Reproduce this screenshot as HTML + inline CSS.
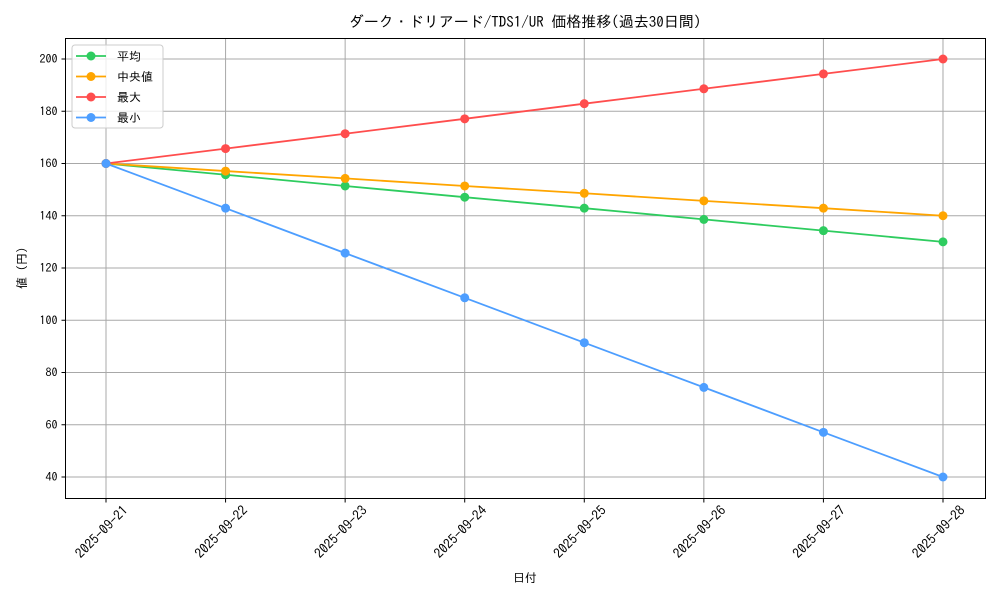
<!DOCTYPE html>
<html><head><meta charset="utf-8"><style>
body{margin:0;background:#fff;}
svg text{font-family:"IPAGothic","Liberation Sans","Noto Sans CJK JP",sans-serif;fill:#000;}
</style></head><body>
<svg id="s" width="1000" height="600" xmlns="http://www.w3.org/2000/svg"></svg>
<script>
const s=document.getElementById('s');
const L=65.5,R=985.5,T=38.5,B=498.5;
const xs=i=>106+i*119.57, ys=v=>59+(200-v)*2.6125;
let h='';
h+=`<text x="525" y="27" font-size="15" text-anchor="middle">ダーク・ドリアード/TDS1/UR 価格推移(過去30日間)</text>`;
for(let i=0;i<8;i++){const x=xs(i);h+=`<line x1="${x}" y1="${T}" x2="${x}" y2="${B}" stroke="#a8a8a8" stroke-width="1"/><line x1="${x}" y1="${B}" x2="${x}" y2="${B+4}" stroke="#000"/>`;
h+=`<text transform="translate(${x+16},${B+6}) rotate(-45)" font-size="13.5" text-anchor="end" dominant-baseline="hanging">2025-09-${21+i}</text>`;}
for(let v=40;v<=200;v+=20){const y=ys(v);h+=`<line x1="${L}" y1="${y}" x2="${R}" y2="${y}" stroke="#a8a8a8" stroke-width="1"/><line x1="${L-4}" y1="${y}" x2="${L}" y2="${y}" stroke="#000"/><text x="${L-8}" y="${y+4}" font-size="12" text-anchor="end">${v}</text>`;}
const D=[["#2ecc5f",[160,155.7,151.4,147.1,142.9,138.6,134.3,130]],["#ffa500",[160,157.1,154.3,151.4,148.6,145.7,142.9,140]],["#ff4d4d",[160,165.7,171.4,177.1,182.9,188.6,194.3,200]],["#4d9eff",[160,142.9,125.7,108.6,91.4,74.3,57.1,40]]];
D.forEach(([c,d])=>{h+=`<polyline fill="none" stroke="${c}" stroke-width="1.8" points="${d.map((v,i)=>xs(i)+','+ys(v)).join(' ')}"/>`;d.forEach((v,i)=>h+=`<circle cx="${xs(i)}" cy="${ys(v)}" r="4.5" fill="${c}"/>`);});
h+=`<rect x="${L}" y="${T}" width="${R-L}" height="${B-T}" fill="none" stroke="#000" stroke-width="1"/>`;
h+=`<rect x="72" y="45" width="91" height="83" rx="3" fill="#fff" fill-opacity="0.8" stroke="#ccc"/>`;
["平均","中央値","最大","最小"].forEach((t,i)=>{const y=56+i*20.5;h+=`<line x1="76" y1="${y}" x2="106" y2="${y}" stroke="${D[i][0]}" stroke-width="1.8"/><circle cx="91" cy="${y}" r="4.5" fill="${D[i][0]}"/><text x="117" y="${y+4.5}" font-size="12">${t}</text>`;});
h+=`<text x="525" y="582" font-size="12" text-anchor="middle">日付</text>`;
h+=`<text transform="translate(26,268) rotate(-90)" font-size="12" text-anchor="middle">値 (円)</text>`;
s.innerHTML=h;
</script>
</body></html>
